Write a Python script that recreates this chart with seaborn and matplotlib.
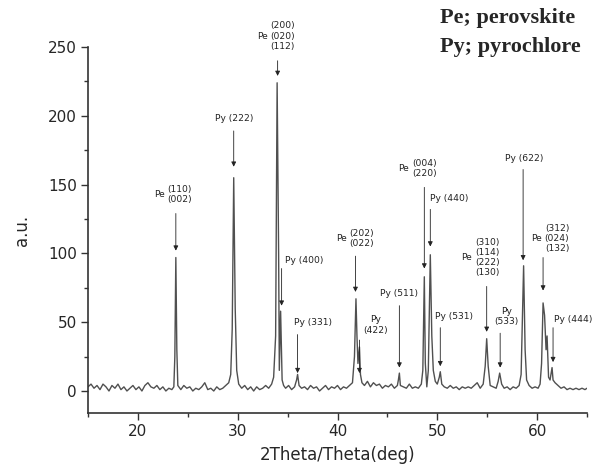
import matplotlib
matplotlib.use('Agg')
import matplotlib.pyplot as plt
import seaborn as sns

# XRD pattern (2theta, intensity)
two_theta = [
    15.0, 15.3, 15.6, 15.9, 16.2, 16.5, 16.8, 17.1, 17.4, 17.7, 18.0, 18.3, 18.6, 18.9,
    19.2, 19.5, 19.8, 20.1, 20.4, 20.7, 21.0, 21.3, 21.6, 21.9, 22.2, 22.5, 22.8, 23.1, 23.4,
    23.6, 23.7, 23.8, 23.9, 24.0,
    24.3, 24.6, 24.9, 25.2, 25.5, 25.8, 26.1, 26.4, 26.7, 27.0, 27.3, 27.6, 27.9, 28.2,
    28.5, 28.8, 29.1,
    29.3, 29.45, 29.6, 29.75, 29.9, 30.1,
    30.4, 30.7, 31.0, 31.3, 31.6, 31.9, 32.2, 32.5, 32.8, 33.1, 33.4, 33.6,
    33.8, 33.95, 34.1, 34.17, 34.3, 34.45, 34.6,
    34.8, 35.1, 35.4, 35.7, 35.9, 36.0, 36.15, 36.4, 36.7, 37.0, 37.3, 37.6, 37.9, 38.2,
    38.5, 38.8, 39.1, 39.4, 39.7, 40.0, 40.3, 40.6, 40.9, 41.2, 41.5,
    41.7, 41.85, 41.95, 42.05, 42.2, 42.3, 42.45,
    42.7, 43.0, 43.3, 43.6, 43.9, 44.2, 44.5, 44.8, 45.1, 45.4, 45.7, 46.0, 46.1, 46.2,
    46.3, 46.6, 46.9, 47.2, 47.5, 47.8, 48.1, 48.4, 48.55,
    48.7, 48.8, 48.95, 49.1, 49.3, 49.45, 49.6, 49.8, 50.0, 50.2, 50.3, 50.45,
    50.7, 51.0, 51.3, 51.6, 51.9, 52.2, 52.5, 52.8, 53.1, 53.4, 53.7, 54.0, 54.3, 54.6,
    54.8, 54.95, 55.1, 55.3, 55.6, 55.9, 56.1, 56.25, 56.45, 56.7, 57.0, 57.3, 57.6, 57.9,
    58.2, 58.4, 58.55, 58.65, 58.8, 58.95, 59.2, 59.5, 59.8, 60.1, 60.3,
    60.45, 60.6, 60.75, 60.9, 61.0, 61.15, 61.3, 61.5, 61.6, 61.8,
    62.1, 62.4, 62.7, 63.0, 63.3, 63.6, 63.9, 64.2, 64.5, 64.8, 65.0,
]
intensity = [
    3, 5, 2, 4, 1, 5, 3, 0, 4, 2, 5, 1, 3, 0,
    2, 4, 1, 3, 0, 4, 6, 3, 2, 4, 1, 3, 0, 2, 1,
    3, 25, 97, 30, 4,
    1, 4, 2, 3, 0, 2, 1, 3, 6, 1, 2, 0, 3, 1,
    2, 4, 6,
    12, 45, 155, 60, 15, 5,
    2, 4, 1, 3, 0, 3, 1, 2, 4, 2, 5, 10,
    40, 224, 100, 15, 58, 8, 4,
    2, 4, 1, 3, 8, 12, 4, 2, 3, 1, 4, 2, 3, 0,
    2, 4, 1, 3, 2, 4, 1, 3, 2, 4, 6,
    25, 67, 40, 20, 32, 12, 6,
    4, 7, 3, 6, 4, 5, 2, 4, 3, 5, 2, 4, 8, 13,
    4, 3, 2, 5, 2, 3, 2, 5, 15,
    83, 20, 3, 15, 99, 40, 15, 7, 5, 10, 14, 5,
    3, 2, 4, 2, 3, 1, 3, 2, 3, 2, 4, 6, 2, 5,
    18, 38, 18, 4, 3, 2, 7, 13, 5, 2, 3, 1, 3, 2,
    4, 12, 60, 91, 30, 8, 4, 2, 3, 2, 5,
    20, 64, 55, 30, 40, 10, 8, 17, 8, 6,
    4, 2, 3, 1, 2, 1, 2, 1, 2, 1, 2,
]

# peak markers: arrow x, arrow tail / tip heights
arrow_x = [23.8, 29.6, 34.0, 34.4, 36.0, 41.8, 42.2, 46.2, 48.7, 49.3, 50.3, 54.95, 56.3, 58.6, 60.6, 61.6]
arrow_tail = [129, 189, 240, 89, 41, 98, 37, 62, 148, 132, 46, 76, 42, 161, 97, 46]
arrow_tip = [102, 163, 229, 62, 13, 72, 13, 17, 89, 105, 18, 43, 17, 95, 73, 21]

# single line labels "Py (hkl)"
inline_labels = ['Py (222)', 'Py (400)', 'Py (331)', 'Py (511)', 'Py (440)', 'Py (531)', 'Py (622)', 'Py (444)']
inline_x = [29.6, 36.7, 37.5, 46.2, 51.2, 51.7, 58.7, 63.6]
inline_y = [198, 95, 50, 71, 140, 54, 169, 52]

# two line labels "Py" over "(hkl)"
two_line_labels = ['Py\n(422)', 'Py\n(533)']
two_line_x = [43.8, 56.9]
two_line_y = [48, 54]

# stacked perovskite labels: "Pe" then list of planes
pe_planes = [['(110)', '(002)'],
             ['(200)', '(020)', '(112)'],
             ['(202)', '(022)'],
             ['(004)', '(220)'],
             ['(310)', '(114)', '(222)', '(130)'],
             ['(312)', '(024)', '(132)']]
pe_x = [24.2, 34.5, 42.4, 48.7, 55.0, 62.0]
pe_y = [143, 258, 111, 161.5, 97, 111]

sns.set_style('ticks')
plt.rcParams['font.family'] = ['DejaVu Sans']

fig = plt.figure(figsize=(6, 4.72), dpi=100)
ax = fig.add_axes([0.1467, 0.125, 0.8316, 0.7754])

sns.lineplot(x=two_theta, y=intensity, ax=ax, color='#505050', linewidth=1.0, estimator=None)

ax.set_xlim(15, 65)
ax.set_ylim(-16, 250)
ax.set_xticks([20, 30, 40, 50, 60])
ax.set_xticks([15, 25, 35, 45, 55, 65], minor=True)
ax.set_yticks([0, 50, 100, 150, 200, 250])
ax.set_yticks([25, 75, 125, 175, 225], minor=True)
ax.tick_params(which='major', length=5, width=1, labelsize=11, color='#333333', pad=3)
ax.tick_params(which='minor', length=3, width=1, color='#333333')
for s in ['top', 'right']:
    ax.spines[s].set_visible(False)
for s in ['left', 'bottom']:
    ax.spines[s].set_color('#333333')
    ax.spines[s].set_linewidth(1.2)

ax.set_xlabel('2Theta/Theta(deg)', fontsize=12, labelpad=5)
ax.set_ylabel('a.u.', fontsize=12, labelpad=12)

for x, tail, tip in zip(arrow_x, arrow_tail, arrow_tip):
    ax.annotate('', xy=(x, tip), xytext=(x, tail),
                arrowprops=dict(arrowstyle='-|>', color='#222222', lw=0.6,
                                mutation_scale=7, shrinkA=0, shrinkB=0))

fs = 6.6
for t, x, y in zip(inline_labels, inline_x, inline_y):
    ax.text(x, y, t, ha='center', va='center', fontsize=fs, color='#222222')

for t, x, y in zip(two_line_labels, two_line_x, two_line_y):
    ax.text(x, y, t, ha='center', va='center', fontsize=fs, color='#222222', linespacing=1.2)

for planes, x, y in zip(pe_planes, pe_x, pe_y):
    ax.text(x, y, '\n'.join(planes), ha='center', va='center', fontsize=fs,
            color='#222222', linespacing=1.15)
    ax.text(x - 1.5, y, 'Pe', ha='right', va='center', fontsize=fs, color='#222222')

fig.text(0.733, 0.962, 'Pe; perovskite', fontsize=16, fontweight='bold',
         family='Liberation Serif', ha='left', va='center')
fig.text(0.733, 0.900, 'Py; pyrochlore', fontsize=16, fontweight='bold',
         family='Liberation Serif', ha='left', va='center')

fig.savefig('out.png', dpi=100)
